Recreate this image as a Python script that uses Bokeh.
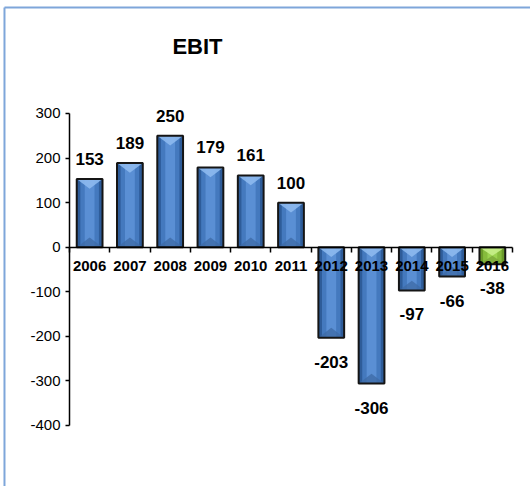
from bokeh.plotting import figure
from bokeh.models import Range1d, FixedTicker, ColumnDataSource, LinearAxis, Label
from bokeh.embed import file_html
from bokeh.resources import INLINE
from bokeh.core.properties import value

# EBIT per year
years = ["2006", "2007", "2008", "2009", "2010", "2011",
         "2012", "2013", "2014", "2015", "2016"]
ebit = [153, 189, 250, 179, 161, 100, -203, -306, -97, -66, -38]
y_ticks = [-400, -300, -200, -100, 0, 100, 200, 300]

# bar palettes: (edge, mid, centre, top bevel, bottom bevel)
blue = ("#2E5C99", "#4479BE", "#5A8FD4", "#8DB9EE", "#3E6BA8")
green = ("#6A9A2A", "#86BC3C", "#9BD34F", "#C8F08A", "#7AA838")
pal = [blue] * 10 + [green]

xs = list(range(len(years)))
bw = 0.64          # bar width in category units
bevel = 22.0       # bevel depth in value units

hi = [max(v, 0) for v in ebit]
lo = [min(v, 0) for v in ebit]

src = ColumnDataSource(dict(
    x=xs, top=hi, bottom=lo, val=ebit,
    edge=[c[0] for c in pal], mid=[c[1] for c in pal], ctr=[c[2] for c in pal],
    label=[str(v) for v in ebit],
    loff=[-20 if v >= 0 else 24 for v in ebit],
))

# the plotting frame fills the whole canvas; axes are pinned inside it
p = figure(width=530, height=486, output_backend="svg", toolbar_location=None,
           x_range=Range1d(-2.213, 10.947), y_range=Range1d(-536.9, 553.5),
           min_border=0, x_axis_location=None, y_axis_location=None)
p.grid.visible = False
p.outline_line_color = None
p.background_fill_color = "white"
p.border_fill_color = "white"

# light blue chart border: top and left edges, running off the canvas
bx, by = -2.114, 537.8
p.segment(x0=[bx, bx], y0=[by, by], x1=[20, bx], y1=[by, -900],
          line_color="#7EA6DA", line_width=2)

# title
p.add_layout(Label(x=2.678, y=450, text="EBIT",
                   text_align="center", text_baseline="middle",
                   text_font="Liberation Sans", text_font_style="bold",
                   text_font_size="22px", text_color="black"))

# bar body with a soft horizontal shading
p.vbar(x="x", top="top", bottom="bottom", width=bw, source=src,
       fill_color="edge", line_color=None)
p.vbar(x="x", top="top", bottom="bottom", width=bw * 0.72, source=src,
       fill_color="mid", line_color=None)
p.vbar(x="x", top="top", bottom="bottom", width=bw * 0.38, source=src,
       fill_color="ctr", line_color=None)

# bevel triangles at both ends of each bar
tx, ty, tc, bxs, bys, bc = [], [], [], [], [], []
for x, t, b, c in zip(xs, hi, lo, pal):
    d = min(bevel, (t - b) / 2.0)
    tx.append([x - bw / 2, x + bw / 2, x])
    ty.append([t, t, t - d])
    tc.append(c[3])
    bxs.append([x - bw / 2, x + bw / 2, x])
    bys.append([b, b, b + d])
    bc.append(c[4])
p.patches(tx, ty, fill_color=tc, line_color=None, fill_alpha=0.9)
p.patches(bxs, bys, fill_color=bc, line_color=None, fill_alpha=0.8)

# dark outline on top
p.vbar(x="x", top="top", bottom="bottom", width=bw, source=src,
       fill_color=None, line_color="#151515", line_width=2)

# value labels
p.text(x="x", y="val", text="label", y_offset="loff", source=src,
       text_align="center", text_baseline="middle",
       text_font=value("Liberation Sans"), text_font_style="bold",
       text_font_size="17px", text_color="black")

# y axis on the left category boundary
yax = LinearAxis(ticker=FixedTicker(ticks=y_ticks), bounds=(-400, 300),
                 fixed_location=-0.5)
yax.major_label_overrides = {t: str(t) for t in y_ticks}
yax.axis_line_color = "black"
yax.axis_line_width = 1.5
yax.major_tick_out = 4
yax.major_tick_in = 0
yax.major_tick_line_width = 1.5
yax.minor_tick_line_color = None
yax.major_label_standoff = 5
yax.major_label_text_font = "Liberation Sans"
yax.major_label_text_font_size = "15px"
yax.major_label_text_color = "black"
p.add_layout(yax, "left")

# category axis sitting on the zero line
xax = LinearAxis(ticker=FixedTicker(ticks=xs, minor_ticks=[i - 0.5 for i in range(len(years) + 1)]),
                 bounds=(-0.5, 10.5), fixed_location=0)
xax.major_label_overrides = {i: y for i, y in enumerate(years)}
xax.axis_line_color = "black"
xax.axis_line_width = 1.5
xax.major_tick_line_color = None
xax.major_tick_out = 0
xax.major_tick_in = 0
xax.minor_tick_line_color = "black"
xax.minor_tick_line_width = 1.5
xax.minor_tick_out = 5
xax.minor_tick_in = 0
xax.major_label_standoff = 9
xax.major_label_text_font = "Liberation Sans"
xax.major_label_text_font_style = "bold"
xax.major_label_text_font_size = "15px"
xax.major_label_text_color = "black"
p.add_layout(xax, "below")

open("out.html", "w").write(file_html(p, INLINE))
